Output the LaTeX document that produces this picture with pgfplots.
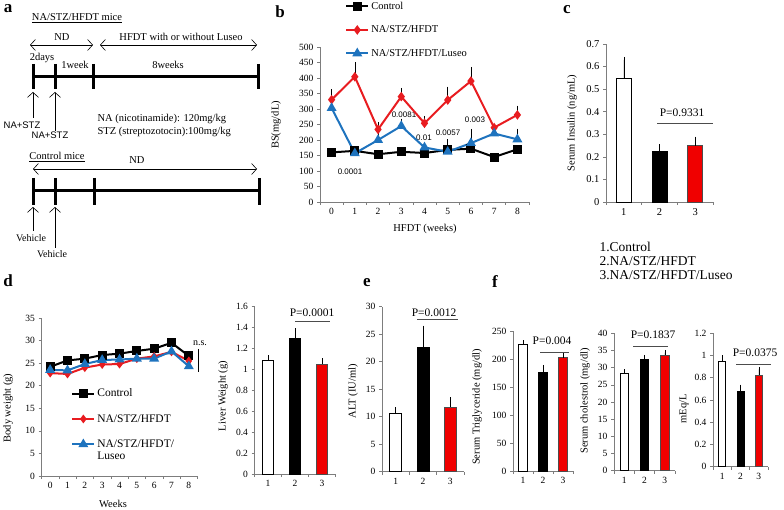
\documentclass[border=0pt]{standalone}
\usepackage{fontspec}
\setmainfont{Liberation Serif}
\newfontfamily\sansf{Liberation Sans}
\usepackage{pgfplots}
\usepackage{pgfplotstable}
\pgfplotsset{compat=1.18}
\usetikzlibrary{arrows.meta}

\definecolor{lred}{RGB}{232,28,32}
\definecolor{lblue}{RGB}{30,115,190}
\definecolor{axgray}{RGB}{125,125,125}
\definecolor{bred}{RGB}{240,0,0}

\newcommand{\fs}[1]{\rmfamily\fontsize{#1}{#1}\selectfont}

% blood sugar (b): mean and upper error
\pgfplotstableread{
x c ce r re b be
0 160 0 330 25 303 0
1 165 0 404 38 157 0
2 154 0 234 16 200 16
3 162 0 340 20 245 16
4 158 0 254 16 176 8
5 168 27 329 35 162 0
6 172 0 390 38 190 38
7 145 0 240 0 221 0
8 170 0 281 22 202 27
}\bsdata

% body weight (d)
\pgfplotstableread{
x c r b
0 24.2 22.8 23.5
1 25.6 22.6 23.4
2 26.0 24.0 24.8
3 26.8 24.7 25.7
4 27.1 24.8 25.8
5 27.7 26.0 26.0
6 28.2 26.5 26.0
7 29.5 27.5 27.6
8 26.6 25.5 24.3
}\bwdata

\pgfplotsset{
  panel/.style={scale only axis, anchor=south west, axis lines*=left,
    axis line style={axgray, line width=0.6pt},
    tick style={axgray, line width=0.6pt}, tick align=outside,
    major tick length=3pt, minor tick length=3pt,
    ticklabel style={font=\fs{9.5}, text=black},
    /pgf/number format/assume math mode=true,
    yticklabel style={/pgf/number format/fixed},
    clip=false},
  catpanel/.style={panel, xmin=-0.5, xmax=8.5, xtick={0,...,8},
    minor xtick={-0.5,0.5,...,8.5}, major x tick style={draw=none}},
  barpanel/.style={panel, xmin=0.5, xmax=3.5, ymin=0, xtick={1,2,3},
    minor xtick={0.5,1.5,2.5,3.5}, major x tick style={draw=none}},
  ebar/.style={error bars/y dir=plus, error bars/y explicit,
    error bars/error bar style={black, line width=0.6pt},
    error bars/error mark options={black, line width=0.6pt, mark size=#1}},
  wbar/.style={ybar, fill=white, draw=black, line width=0.6pt},
  kbar/.style={ybar, fill=black, draw=black, line width=0.6pt},
  rbar/.style={ybar, fill=bred, draw=black!70, line width=0.6pt},
  limg/.style={legend image code/.code={\draw[mark repeat=2,mark phase=2,##1]
    plot coordinates {(0pt,0pt) (11pt,0pt) (22pt,0pt)};}},
}

\begin{document}
\begin{tikzpicture}
\useasboundingbox (0,0) rectangle (784pt,-510pt);

% ---------------- panel a (schematic) ----------------
\begin{scope}[x=1pt, y=-1pt, >={Straight Barb[length=5pt,width=11pt]}]
\node[font=\bfseries\fs{17}] at (8,9) {a};
\node[font=\fs{10.5}] at (77,18) {\underline{NA/STZ/HFDT mice}};
\node[font=\fs{10.5}] at (62,37) {ND};
\node[font=\fs{10.5}] at (181,37) {HFDT with or without Luseo};
\draw[<->, line width=0.6pt] (30,45) -- (93,45);
\draw[<->, line width=0.6pt] (100,45) -- (257,45);
\node[font=\fs{10.5}] at (42,58) {2days};
\node[font=\fs{10.5}] at (75,65) {1week};
\node[font=\fs{10.5}] at (168,65) {8weeks};
\draw[line width=3pt] (33,77) -- (258,77);
\foreach \t in {33,55,93,258} \draw[line width=3pt] (\t,64) -- (\t,89);
\draw[->, line width=0.6pt] (33,118) -- (33,92);
\draw[->, line width=0.6pt] (55,131) -- (55,92);
\node[font=\sansf\fontsize{9.5}{9.5}\selectfont] at (22,125) {NA+STZ};
\node[font=\sansf\fontsize{9.5}{9.5}\selectfont] at (50,135) {NA+STZ};
\node[font=\fs{10.5}, anchor=west] at (94,119) {NA (nicotinamide): 120mg/kg};
\node[font=\fs{10.5}, anchor=west] at (94,132) {STZ (streptozotocin):100mg/kg};
\node[font=\fs{10.5}] at (57,157) {\underline{Control mice}};
\node[font=\fs{10.5}] at (137,160) {ND};
\draw[<->, line width=0.6pt] (33,169) -- (257,169);
\draw[line width=3pt] (33,191) -- (259,191);
\foreach \t in {33,55,94,259} \draw[line width=3pt] (\t,178) -- (\t,205);
\draw[->, line width=0.6pt] (33,231) -- (33,207);
\draw[->, line width=0.6pt] (55,248) -- (55,207);
\node[font=\fs{10}] at (31,238) {Vehicle};
\node[font=\fs{10}] at (52,254) {Vehicle};

% panel letters and free labels
\node[font=\bfseries\fs{17}] at (280,12) {b};
\node[font=\bfseries\fs{17}] at (567,10) {c};
\node[font=\bfseries\fs{17}] at (8,281) {d};
\node[font=\bfseries\fs{17}] at (367,283) {e};
\node[font=\bfseries\fs{17}] at (495,282) {f};

\node[rotate=90, font=\fs{10.5}] at (276,125) {BS(mg/dL)};
\node[font=\fs{10.5}] at (425,229) {HFDT (weeks)};
\node[rotate=90, font=\fs{10.5}] at (572,123) {Serum Insulin (ng/mL)};
\node[rotate=90, font=\fs{10.5}] at (8,408) {Body weight (g)};
\node[font=\fs{10.5}] at (113,504) {Weeks};
\node[rotate=90, font=\fs{10.5}] at (223,396) {Liver Weight (g)};
\node[rotate=90, font=\fs{10.5}] at (353,391) {ALT (IU/ml)};
\node[rotate=90, font=\fs{10.5}] at (477,407) {Serum Triglyceride (mg/dl)};
\node[rotate=90, font=\fs{10.5}] at (585,401) {Serum cholestrol (mg/dl)};
\node[rotate=90, font=\fs{10.5}] at (684,409) {mEq/L};

% p-values in b
\begin{scope}[font=\sansf\fontsize{8}{8}\selectfont]
\node at (350,172) {0.0001};
\node at (404,115) {0.0081};
\node at (424,138) {0.01};
\node at (448,133) {0.0057};
\node at (475,120) {0.003};
\end{scope}

% group key of c
\node[anchor=west, font=\fs{13.5}] at (596,247) {1.Control};
\node[anchor=west, font=\fs{13.5}] at (596,261) {2.NA/STZ/HFDT};
\node[anchor=west, font=\fs{13.5}] at (596,275) {3.NA/STZ/HFDT/Luseo};

% P-value brackets
\node[font=\fs{11.5}] at (682,113) {P=0.9331};
\draw[line width=0.6pt, black!70] (657,123) -- (713,123);
\node[font=\fs{11.5}] at (312,313) {P=0.0001};
\draw[line width=0.6pt, black!70] (295,321) -- (330,321);
\node[font=\fs{11.5}] at (434,313) {P=0.0012};
\draw[line width=0.6pt, black!70] (417,319) -- (458,319);
\node[font=\fs{11.5}] at (552,341) {P=0.004};
\draw[line width=0.6pt, black!70] (540,352) -- (569,352);
\node[font=\fs{11.5}] at (653,335) {P=0.1837};
\draw[line width=0.6pt, black!70] (633,346) -- (668,346);
\node[font=\fs{11.5}] at (755,353) {P=0.0375};
\draw[line width=0.6pt, black!70] (736,364) -- (771,364);

% n.s. in d
\node[font=\fs{10}] at (200,343) {n.s.};
\draw[line width=0.6pt] (198,349) -- (198,372);
\end{scope}

% ---------------- panel b ----------------
\begin{axis}[catpanel, at={(320pt,-202pt)}, width=209pt, height=155pt,
  ymin=0, ymax=500, ytick={0,50,...,500}, limg,
  legend style={at={(0.12,1.305)}, anchor=north west, draw=none, fill=none,
    font=\fs{10.5}, row sep=11pt, inner sep=0pt},
  legend cell align=left]
\addplot[forget plot, black, only marks, mark=none, ebar=2.5pt] table[x=x, y=c, y error=ce] {\bsdata};
\addplot[forget plot, black, only marks, mark=none, ebar=2.5pt] table[x=x, y=r, y error=re] {\bsdata};
\addplot[forget plot, black, only marks, mark=none, ebar=2.5pt] table[x=x, y=b, y error=be] {\bsdata};
\addplot[black, line width=2pt, mark=square*, mark size=3.5pt] table[x=x, y=c] {\bsdata};
\addplot[lred, line width=2pt, mark=diamond*, mark size=3.2pt] table[x=x, y=r] {\bsdata};
\addplot[lblue, line width=2pt, mark=triangle*, mark size=3.8pt] table[x=x, y=b] {\bsdata};
\legend{Control, NA/STZ/HFDT, NA/STZ/HFDT/Luseo}
\end{axis}

% ---------------- panel c ----------------
\begin{axis}[barpanel, at={(606pt,-202pt)}, width=107pt, height=158pt,
  ymax=0.7, ytick={0,0.1,0.2,0.3,0.4,0.5,0.6,0.7},
  ticklabel style={font=\fs{10.5}}]
\addplot[wbar, bar width=0.42, ebar=3pt] coordinates {(1,0.55) +- (0,0.08)};
\addplot[kbar, bar width=0.42, ebar=3pt] coordinates {(2,0.225) +- (0,0.018)};
\addplot[rbar, bar width=0.42, ebar=3pt] coordinates {(3,0.25) +- (0,0.026)};
\end{axis}

% ---------------- panel d: body weight ----------------
\begin{axis}[catpanel, at={(41.5pt,-476pt)}, width=156pt, height=158pt,
  ymin=0, ymax=35, ytick={0,5,...,35}, limg,
  legend style={at={(0.19,0.565)}, anchor=north west, draw=none, fill=none,
    font=\fs{11.5}, row sep=12pt, inner sep=0pt},
  legend cell align=left]
\addplot[black, line width=2pt, mark=square*, mark size=3.5pt] table[x=x, y=c] {\bwdata};
\addplot[lred, line width=2pt, mark=diamond*, mark size=2.8pt] table[x=x, y=r] {\bwdata};
\addplot[lblue, line width=2pt, mark=triangle*, mark size=3.8pt] table[x=x, y=b] {\bwdata};
\legend{Control, NA/STZ/HFDT, {\begin{tabular}[t]{@{}l@{}}NA/STZ/HFDT/\\Luseo\end{tabular}}}
\end{axis}

% ---------------- panel d: liver weight ----------------
\begin{axis}[barpanel, at={(254.5pt,-474pt)}, width=81pt, height=167.5pt,
  ymax=1.6, ytick={0,0.2,...,1.6}]
\addplot[wbar, bar width=0.41, ebar=3pt] coordinates {(1,1.09) +- (0,0.016)};
\addplot[kbar, bar width=0.41, ebar=3pt] coordinates {(2,1.30) +- (0,0.065)};
\addplot[rbar, bar width=0.41, ebar=3pt] coordinates {(3,1.05) +- (0,0.025)};
\end{axis}

% ---------------- panel e: ALT ----------------
\begin{axis}[barpanel, at={(382pt,-471.7pt)}, width=82pt, height=165pt,
  ymax=30, ytick={0,5,...,30}]
\addplot[wbar, bar width=0.44, ebar=3pt] coordinates {(1,10.6) +- (0,0.6)};
\addplot[kbar, bar width=0.44, ebar=3pt] coordinates {(2,22.7) +- (0,3.3)};
\addplot[rbar, bar width=0.44, ebar=3pt] coordinates {(3,11.8) +- (0,1.2)};
\end{axis}

% ---------------- panel f: triglyceride ----------------
\begin{axis}[barpanel, at={(513pt,-471pt)}, width=60pt, height=140pt,
  ymax=250, ytick={0,50,...,250}]
\addplot[wbar, bar width=0.43, ebar=2.5pt] coordinates {(1,226) +- (0,3)};
\addplot[kbar, bar width=0.43, ebar=2.5pt] coordinates {(2,177) +- (0,8)};
\addplot[rbar, bar width=0.43, ebar=2.5pt] coordinates {(3,203) +- (0,4)};
\end{axis}

% ---------------- panel f: cholesterol ----------------
\begin{axis}[barpanel, at={(614pt,-470.7pt)}, width=61pt, height=137.4pt,
  ymax=40, ytick={0,5,...,40}]
\addplot[wbar, bar width=0.41, ebar=2.5pt] coordinates {(1,28.3) +- (0,0.5)};
\addplot[kbar, bar width=0.41, ebar=2.5pt] coordinates {(2,32.4) +- (0,0.6)};
\addplot[rbar, bar width=0.41, ebar=2.5pt] coordinates {(3,33.7) +- (0,0.7)};
\end{axis}

% ---------------- panel f: mEq/L ----------------
\begin{axis}[barpanel, at={(713pt,-466.7pt)}, width=55pt, height=133.4pt,
  ymax=1.2, ytick={0,0.2,...,1.2}]
\addplot[wbar, bar width=0.39, ebar=2.5pt] coordinates {(1,0.95) +- (0,0.03)};
\addplot[kbar, bar width=0.39, ebar=2.5pt] coordinates {(2,0.675) +- (0,0.04)};
\addplot[rbar, bar width=0.39, ebar=2.5pt] coordinates {(3,0.825) +- (0,0.05)};
\end{axis}
\end{tikzpicture}
\end{document}
